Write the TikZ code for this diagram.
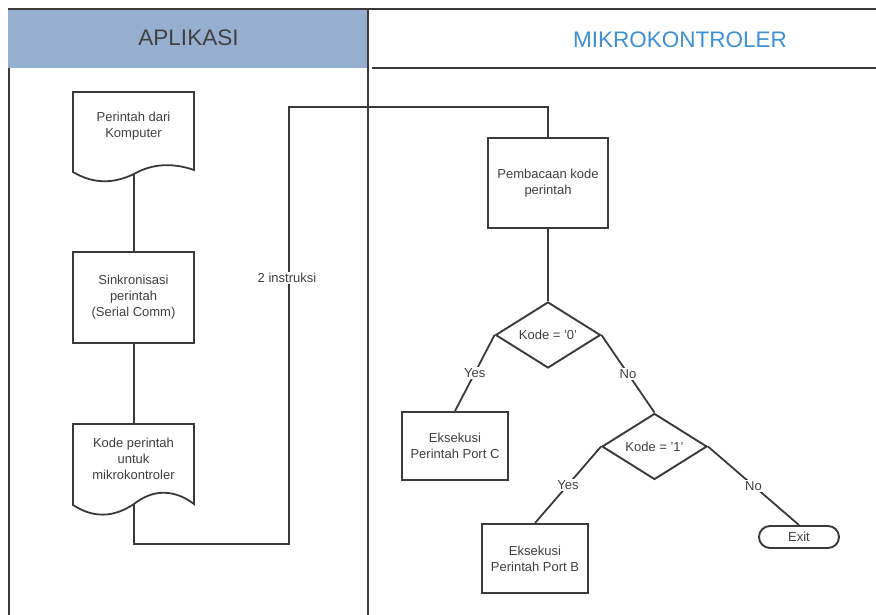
\documentclass[tikz,border=0pt]{standalone}
\usepackage{fontspec}
\setmainfont{Liberation Sans}
\usetikzlibrary{shapes.geometric}
\definecolor{lanehead}{HTML}{97AFCF}
\definecolor{mktitle}{HTML}{3D8FD6}
\definecolor{ink}{HTML}{3A3A3A}
\definecolor{txt}{HTML}{404040}
\tikzset{
  wire/.style={draw=ink, line width=1.8pt},
  frame/.style={draw=ink, line width=2pt},
  proc/.style={rectangle, draw=ink, line width=1.9pt, fill=white, text=txt,
    align=center, inner sep=0pt, font=\fontsize{13}{16}\selectfont},
  txtnode/.style={text=txt, align=center, inner sep=0pt,
    font=\fontsize{13}{16}\selectfont},
  decision/.style={diamond, draw=ink, line width=1.9pt, fill=white, text=txt,
    inner sep=0pt, minimum width=105pt, minimum height=66pt, aspect=1.59,
    font=\fontsize{13}{16}\selectfont},
  term/.style={rectangle, draw=ink, line width=1.9pt, rounded corners=11pt,
    minimum width=80pt, minimum height=22pt, text=txt, inner sep=0pt,
    font=\fontsize{13}{16}\selectfont},
  branch/.style={fill=white, text=txt, inner sep=1.5pt,
    font=\fontsize{13}{16}\selectfont},
  head/.style={inner sep=0pt, font=\fontsize{22.5}{26}\selectfont},
}
\begin{document}
\begin{tikzpicture}[x=1pt, y=-1pt]
\useasboundingbox (0,0) rectangle (876,615);

% swimlane headers and borders
\fill[lanehead] (8,9) rectangle (368,68);
\draw[frame] (8,9) -- (876,9);
\draw[frame] (372,68) -- (876,68);
\draw[frame] (9,68) -- (9,615);
\draw[frame] (368,9) -- (368,615);
\node[head, text=txt] (hApp) at (188.5,38) {APLIKASI};
\node[head, text=mktitle] (hMcu) at (680,40) {MIKROKONTROLER};

% left lane: documents and process
\draw[wire, fill=white] (73,172) -- (73,92) -- (194,92) -- (194,170)
  .. controls (174,163) and (153,163) .. (134,174)
  .. controls (113,184) and (93,184) .. (73,172) -- cycle;
\node[txtnode] (doc1) at (133.5,126) {Perintah dari\\Komputer};
\coordinate (doc1b) at (134,174);

\node[proc, minimum width=121pt, minimum height=91pt] (sync) at (133.5,297.5)
  {Sinkronisasi\\perintah\\(Serial Comm)};
\coordinate (syncT) at (134,252);
\coordinate (syncB) at (134,343);

\draw[wire, fill=white] (73,505) -- (73,424) -- (194,424) -- (194,504)
  .. controls (174,489) and (153,489) .. (134,504)
  .. controls (113,518) and (93,518) .. (73,505) -- cycle;
\node[txtnode] (doc2) at (133.5,459) {Kode perintah\\untuk\\mikrokontroler};
\coordinate (doc2t) at (134,424);
\coordinate (doc2b) at (134,504);

% right lane
\node[proc, minimum width=120pt, minimum height=90pt] (read) at (548,183)
  {Pembacaan kode\\perintah};
\node[decision] (dec0) at (548,335) {Kode = '0'};
\node[proc, minimum width=106pt, minimum height=68pt] (portC) at (455,446)
  {Eksekusi\\Perintah Port C};
\node[decision] (dec1) at (654.5,446.5) {Kode = '1'};
\node[proc, minimum width=106pt, minimum height=69pt] (portB) at (535,558.5)
  {Eksekusi\\Perintah Port B};
\node[term] (exit) at (799,537) {Exit};

% connectors
\coordinate (c1) at (134,544);
\coordinate (c2) at (289,544);
\coordinate (c3) at (289,107);
\draw[wire] (doc1b) -- (syncT);
\draw[wire] (syncB) -- (doc2t);
\draw[wire] (doc2b) -- (c1) -- (c2) -- (c3) -| (read.north);
\node[branch] (lbl) at (287,278) {2 instruksi};
\draw[wire] (read.south) -- (dec0.north);
\draw[wire] (dec0.west) -- node[branch] (y0) {Yes} (portC.north);
\draw[wire] (dec0.east) -- node[branch] (n0) {No} (dec1.north);
\draw[wire] (dec1.west) -- node[branch] (y1) {Yes} (portB.north);
\draw[wire] (dec1.east) -- node[branch] (n1) {No} (exit.north);
\end{tikzpicture}
\end{document}
